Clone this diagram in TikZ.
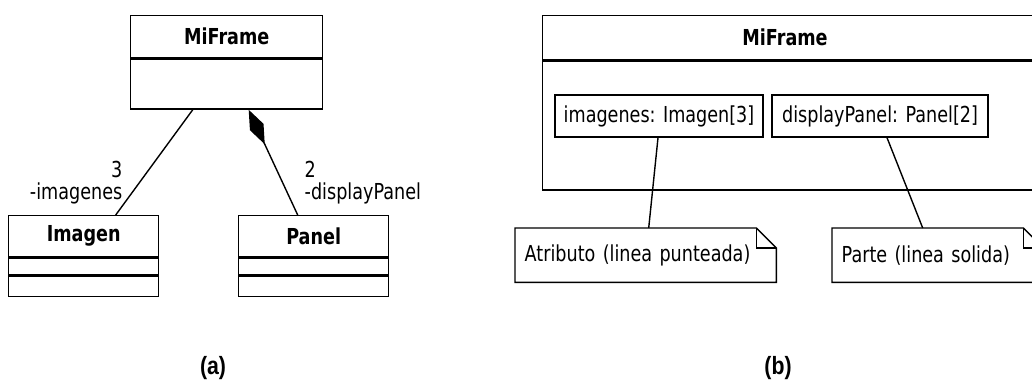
\documentclass[tikz,border=0pt]{standalone}
\usepackage{fontspec}
\usepackage{tikz}
\usetikzlibrary{arrows.meta}
\setmainfont{DejaVu Sans}[FakeStretch=0.8]
\newfontfamily\capfont{Liberation Sans}[FakeStretch=0.85]

\tikzset{
  umlbox/.style={draw, line width=1.4pt, inner sep=0pt},
  umltext/.style={font=\fontsize{22}{26}\selectfont},
  notebox/.style={inner xsep=9pt, inner ysep=0pt, minimum height=53pt, anchor=north west, align=left},
  endlabel/.style={inner sep=0pt, font=\fontsize{22}{22}\selectfont},
}

\begin{document}
\begin{tikzpicture}[x=1pt,y=-1pt,line width=1.4pt,umltext]
  \useasboundingbox (0,0) rectangle (1032,386);
  \clip (0,0) rectangle (1032,386);
  % (a) classes
  \node[umlbox, minimum width=192pt, minimum height=42pt, anchor=north west] (frameA) at (130,15) {\bfseries MiFrame};
  \node[umlbox, minimum width=192pt, minimum height=50pt, anchor=north] (frameAbody) at (frameA.south) {};
  \node[umlbox, minimum width=150pt, minimum height=41pt, anchor=north west] (imagen) at (8,215) {\bfseries Imagen};
  \node[umlbox, minimum width=150pt, minimum height=17pt, anchor=north] (imagenattr) at (imagen.south) {};
  \node[umlbox, minimum width=150pt, minimum height=20pt, anchor=north] (imagenops) at (imagenattr.south) {};
  \node[umlbox, minimum width=150pt, minimum height=41pt, anchor=north west] (panel) at (238,215) {\bfseries Panel};
  \node[umlbox, minimum width=150pt, minimum height=17pt, anchor=north] (panelattr) at (panel.south) {};
  \node[umlbox, minimum width=150pt, minimum height=20pt, anchor=north] (panelops) at (panelattr.south) {};
  % (a) association and composition
  \draw ([xshift=-34pt]frameAbody.south) -- ([xshift=32pt]imagen.north);
  \draw[{Diamond[length=38pt,width=15pt]}-] ([xshift=22pt]frameAbody.south) -- ([xshift=-16pt]panel.north);
  \node[endlabel, anchor=north east, align=right] (roleA) at (123,160) {3\\-imagenes};
  \node[endlabel, anchor=north west, align=left] (roleB) at (304,160) {2\\-displayPanel};
  % (b) structured class
  \node[umlbox, minimum width=494pt, minimum height=44pt, anchor=north west] (frameB) at (542,15) {};
  \node (frameBtitle) at (785,37) {\bfseries MiFrame};
  \node[umlbox, minimum width=494pt, minimum height=129pt, anchor=north] (frameBbody) at (frameB.south) {};
  \node[umlbox, minimum width=208pt, minimum height=42pt] (partImg) at (659,116) {imagenes: Imagen[3]};
  \node[umlbox, minimum width=216pt, minimum height=42pt] (partPanel) at (880,116) {displayPanel: Panel[2]};
  % notes
  \node[notebox, text width=242pt] (noteA) at (515,228) {Atributo (linea punteada)};
  \node[notebox, text width=192pt] (noteB) at (832,228) {Parte (linea solida)};
  \foreach \n in {noteA,noteB} {
    \draw (\n.north west) -- ([xshift=-20pt]\n.north east) -- ([yshift=-20pt]\n.north east)
      -- (\n.south east) -- (\n.south west) -- cycle;
    \draw ([xshift=-20pt]\n.north east) -- ([xshift=-20pt,yshift=-20pt]\n.north east) -- ([yshift=-20pt]\n.north east);
  }
  \draw ([xshift=-1pt]partImg.south) -- ([xshift=3pt]noteA.north);
  \draw ([xshift=7pt]partPanel.south) -- ([xshift=-15pt]noteB.north);
  % captions
  \node[font=\capfont\bfseries\fontsize{25}{30}\selectfont] (capA) at (213,368) {(a)};
  \node[font=\capfont\bfseries\fontsize{25}{30}\selectfont] (capB) at (778,368) {(b)};
\end{tikzpicture}
\end{document}
